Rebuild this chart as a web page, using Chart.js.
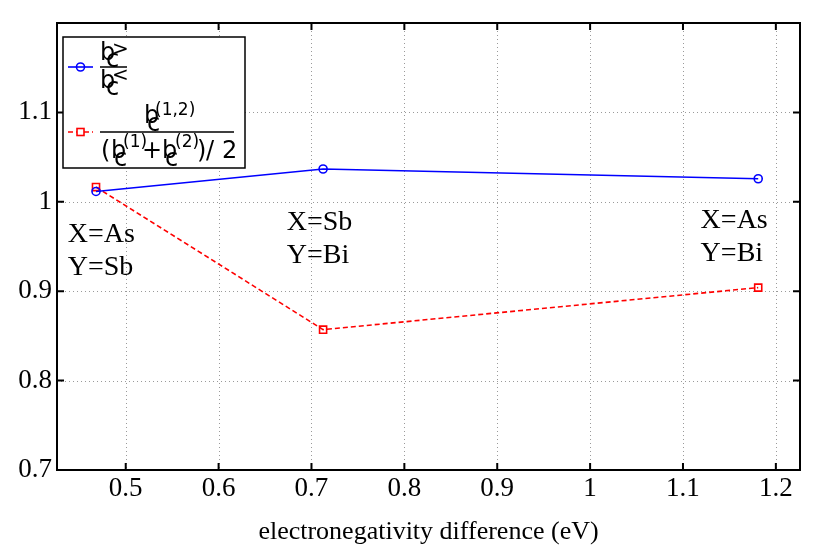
<!DOCTYPE html>
<html>
<head>
<meta charset="utf-8">
<script src="https://cdn.jsdelivr.net/npm/chart.js@4"></script>
<style>
  html, body { margin: 0; padding: 0; background: #fff; }
  #wrap { width: 830px; height: 560px; }
</style>
</head>
<body>
<div id="wrap"><canvas id="chart" width="830" height="560"></canvas></div>
<script>
// electronegativity difference (eV) of each X/Y pair
const xValues = [0.468, 0.7125, 1.181];
// b_c^> / b_c^<
const ratioSeries = [1.0116, 1.0367, 1.0258];
// b_c^(1,2) / ((b_c^(1) + b_c^(2)) / 2)
const mixSeries = [1.0165, 0.857, 0.904];

// pair labels
const pairTop = ['X=As', 'X=Sb', 'X=As'];
const pairBottom = ['Y=Sb', 'Y=Bi', 'Y=Bi'];
const pairLabelX = [0.4375, 0.6734, 1.119];
const pairLabelY = [0.955, 0.9685, 0.971];

// ticks
const xTickValues = [0.5, 0.6, 0.7, 0.8, 0.9, 1, 1.1, 1.2];
const yTickValues = [0.7, 0.8, 0.9, 1, 1.1, 1.2];

const SERIF = '"Liberation Serif", "Times New Roman", serif';
const SANS = '"DejaVu Sans", sans-serif';

function fmtTick(v) {
  return String(Number(v.toFixed(2)));
}

// draw a list of text pieces at absolute spots (legend math)
function drawPieces(ctx, pieces) {
  pieces.forEach(p => {
    ctx.font = p[3] + 'px ' + SANS;
    ctx.fillText(p[0], p[1], p[2]);
  });
}

// dotted grid, inward ticks, box, pair labels, legend
const matlabFrame = {
  id: 'matlabFrame',
  beforeDatasetsDraw(chart) {
    const { ctx, chartArea: a, scales: { x, y } } = chart;
    ctx.save();
    ctx.strokeStyle = '#9a9a9a';
    ctx.lineWidth = 1;
    ctx.setLineDash([1, 3]);
    x.ticks.forEach(t => {
      const px = Math.round(x.getPixelForValue(t.value)) + 0.5;
      ctx.beginPath(); ctx.moveTo(px, a.top); ctx.lineTo(px, a.bottom); ctx.stroke();
    });
    y.ticks.forEach(t => {
      const py = Math.round(y.getPixelForValue(t.value)) + 0.5;
      ctx.beginPath(); ctx.moveTo(a.left, py); ctx.lineTo(a.right, py); ctx.stroke();
    });
    ctx.restore();
  },
  afterDatasetsDraw(chart) {
    const { ctx, chartArea: a, scales: { x, y } } = chart;
    ctx.save();

    // ticks pointing inward on all four sides
    ctx.strokeStyle = '#000';
    ctx.lineWidth = 2;
    ctx.setLineDash([]);
    const tl = 7;
    x.ticks.forEach(t => {
      const px = x.getPixelForValue(t.value);
      ctx.beginPath();
      ctx.moveTo(px, a.bottom); ctx.lineTo(px, a.bottom - tl);
      ctx.moveTo(px, a.top); ctx.lineTo(px, a.top + tl);
      ctx.stroke();
    });
    y.ticks.forEach(t => {
      const py = y.getPixelForValue(t.value);
      ctx.beginPath();
      ctx.moveTo(a.left, py); ctx.lineTo(a.left + tl, py);
      ctx.moveTo(a.right, py); ctx.lineTo(a.right - tl, py);
      ctx.stroke();
    });
    ctx.strokeRect(a.left, a.top, a.right - a.left, a.bottom - a.top);

    // pair labels
    ctx.fillStyle = '#000';
    ctx.font = '28px ' + SERIF;
    ctx.textAlign = 'left';
    ctx.textBaseline = 'alphabetic';
    pairTop.forEach((txt, i) => {
      const px = x.getPixelForValue(pairLabelX[i]);
      const py = y.getPixelForValue(pairLabelY[i]);
      ctx.fillText(txt, px, py);
      ctx.fillText(pairBottom[i], px, py + 33);
    });

    // legend box
    ctx.fillStyle = '#fff';
    ctx.fillRect(63, 37, 182, 131);
    ctx.lineWidth = 1.5;
    ctx.strokeRect(63, 37, 182, 131);

    // blue sample
    ctx.strokeStyle = '#0000ff';
    ctx.lineWidth = 1.6;
    ctx.beginPath(); ctx.moveTo(68, 67); ctx.lineTo(93, 67); ctx.stroke();
    ctx.beginPath(); ctx.arc(80.5, 67, 4, 0, Math.PI * 2); ctx.stroke();

    // red sample
    ctx.strokeStyle = '#ff0000';
    ctx.setLineDash([5, 3]);
    ctx.beginPath(); ctx.moveTo(68, 132); ctx.lineTo(93, 132); ctx.stroke();
    ctx.setLineDash([]);
    ctx.fillStyle = '#fff';
    ctx.fillRect(77, 128.5, 7, 7);
    ctx.strokeRect(77, 128.5, 7, 7);

    // fraction bars
    ctx.strokeStyle = '#000';
    ctx.lineWidth = 1.3;
    ctx.beginPath();
    ctx.moveTo(100, 67); ctx.lineTo(127, 67);
    ctx.moveTo(100, 132); ctx.lineTo(234, 132);
    ctx.stroke();

    ctx.fillStyle = '#000';
    drawPieces(ctx, [
      ['b', 100, 60, 24], ['c', 106, 67, 24], ['>', 112, 55, 20],
      ['b', 100, 88, 24], ['c', 106, 95, 24], ['<', 112, 81, 20],
      ['b', 144, 123, 24], ['c', 147, 131, 24], ['(1,2)', 155, 115, 17],
      ['(', 101, 158, 24], ['b', 111, 158, 24], ['c', 114, 166, 24], ['(1)', 123, 147, 17],
      ['+', 142, 158, 24], ['b', 162, 158, 24], ['c', 165, 166, 24], ['(2)', 175, 147, 17],
      [')', 197, 158, 24], ['/', 206, 158, 24], ['2', 222, 158, 24]
    ]);

    ctx.restore();
  }
};

new Chart(document.getElementById('chart'), {
  type: 'line',
  data: {
    datasets: [
      {
        label: 'b_c^> / b_c^<',
        data: xValues.map((v, i) => ({ x: v, y: ratioSeries[i] })),
        borderColor: '#0000ff',
        borderWidth: 1.6,
        pointStyle: 'circle',
        pointRadius: 4,
        pointBorderWidth: 1.6,
        pointBackgroundColor: 'rgba(255,255,255,0)',
        pointBorderColor: '#0000ff',
        fill: false,
        tension: 0
      },
      {
        label: 'b_c^(1,2) / ((b_c^(1)+b_c^(2))/2)',
        data: xValues.map((v, i) => ({ x: v, y: mixSeries[i] })),
        borderColor: '#ff0000',
        borderWidth: 1.6,
        borderDash: [5, 3],
        pointStyle: 'rect',
        pointRadius: 5,
        pointBorderWidth: 1.6,
        pointBackgroundColor: 'rgba(255,255,255,0)',
        pointBorderColor: '#ff0000',
        fill: false,
        tension: 0
      }
    ]
  },
  options: {
    responsive: false,
    animation: false,
    devicePixelRatio: 1,
    layout: { padding: { left: 0, right: 30, top: 23, bottom: 0 } },
    plugins: {
      legend: { display: false },
      tooltip: { enabled: false }
    },
    scales: {
      x: {
        type: 'linear',
        min: 0.426,
        max: 1.226,
        afterBuildTicks: s => { s.ticks = xTickValues.map(v => ({ value: v })); },
        afterFit: s => { s.height = 90; },
        grid: { display: false, drawTicks: false },
        border: { display: false },
        ticks: {
          color: '#000',
          font: { family: SERIF, size: 27 },
          padding: 3,
          maxRotation: 0,
          autoSkip: false,
          callback: v => fmtTick(v)
        },
        title: {
          display: true,
          text: 'electronegativity difference (eV)',
          color: '#000',
          font: { family: SERIF, size: 26 },
          padding: { top: 0, bottom: 12 }
        }
      },
      y: {
        type: 'linear',
        min: 0.7,
        max: 1.2,
        afterBuildTicks: s => { s.ticks = yTickValues.map(v => ({ value: v })); },
        afterFit: s => { s.width = 57; },
        grid: { display: false, drawTicks: false },
        border: { display: false },
        ticks: {
          color: '#000',
          font: { family: SERIF, size: 27 },
          padding: 5,
          autoSkip: false,
          callback: v => (v > 1.15 ? '' : fmtTick(v))
        }
      }
    }
  },
  plugins: [matlabFrame]
});
</script>
</body>
</html>
